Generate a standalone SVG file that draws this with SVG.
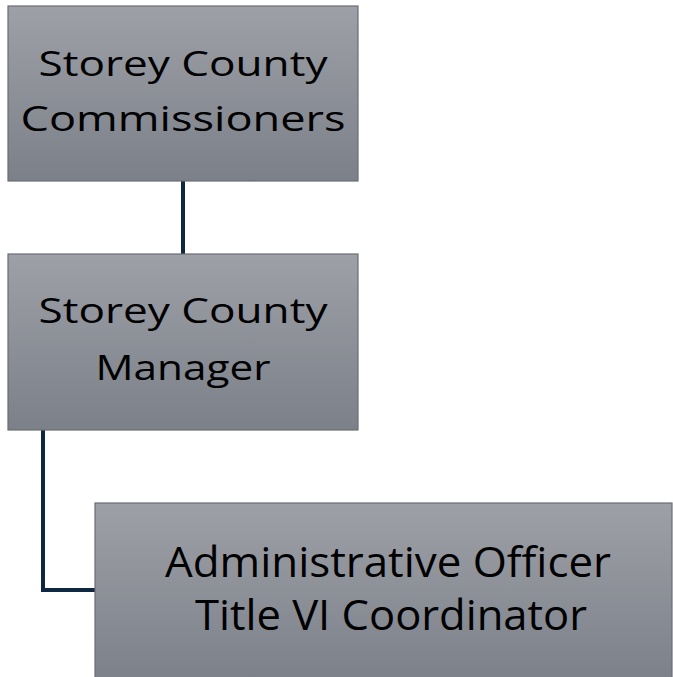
<svg xmlns="http://www.w3.org/2000/svg" width="673" height="677" viewBox="0 0 673 677">
<style>
.box{fill:url(#g);stroke:#6a6d73;stroke-width:1.2}
.t{font-family:"Open Sans","Liberation Sans",sans-serif;fill:#000;text-anchor:middle}
.c{fill:none;stroke:#0e2841;stroke-width:4}
</style>
<defs>
<linearGradient id="g" x1="0" y1="0" x2="0" y2="1">
<stop offset="0" stop-color="#9da0a7"/>
<stop offset="1" stop-color="#7c8088"/>
</linearGradient>
</defs>
<rect width="673" height="677" fill="#fff"/>
<g id="connectors">
<line class="c" x1="183" y1="181" x2="183" y2="254"/>
<polyline class="c" points="43,430 43,590 95,590"/>
</g>
<g id="commissioners">
<rect class="box" x="8" y="6" width="350" height="175"/>
<text class="t" x="183" y="76" font-size="35" textLength="289" lengthAdjust="spacingAndGlyphs">Storey County</text>
<text class="t" x="183" y="131" font-size="35" textLength="325" lengthAdjust="spacingAndGlyphs">Commissioners</text>
</g>
<g id="manager">
<rect class="box" x="8" y="254" width="350" height="176"/>
<text class="t" x="183" y="323" font-size="35" textLength="289" lengthAdjust="spacingAndGlyphs">Storey County</text>
<text class="t" x="183" y="380" font-size="35" textLength="175" lengthAdjust="spacingAndGlyphs">Manager</text>
</g>
<g id="officer">
<rect class="box" x="95" y="503" width="577" height="180"/>
<text class="t" x="388" y="577" font-size="42" textLength="446" lengthAdjust="spacingAndGlyphs">Administrative Officer</text>
<text class="t" x="391" y="630" font-size="42" textLength="392" lengthAdjust="spacingAndGlyphs">Title VI Coordinator</text>
</g>
</svg>
